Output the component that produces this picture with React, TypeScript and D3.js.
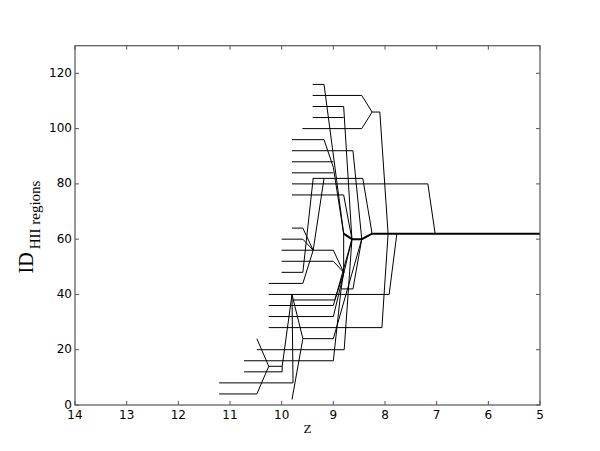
import React from "react";
import * as d3 from "d3";

// merger tree of HII regions: each branch is a polyline of [z, id] points
const trunk: [number, number][] = [[8.8, 62], [8.64, 60], [8.45, 60], [8.25, 62], [5, 62]];

const topBranches: [number, number][][] = [
  [[9.4, 116], [9.18, 116], [8.8, 62]],
  [[9.4, 112], [8.45, 112], [8.25, 106], [8.1, 106], [7.94, 62]],
  [[9.6, 100], [8.45, 100], [8.25, 106]],
  [[9.4, 108], [8.8, 108], [8.64, 60]],
  [[9.4, 104], [8.8, 104]],
  [[9.8, 96], [9.18, 96], [9.0, 86], [8.8, 62]],
  [[9.8, 92], [8.62, 92], [8.45, 60]],
  [[9.8, 88], [9.0, 88]],
  [[9.8, 84], [9.0, 84]],
  [[9.8, 80], [7.17, 80], [7.03, 62]],
  [[9.8, 76], [8.8, 76], [8.64, 60]],
  [[9.4, 82], [8.43, 82], [8.25, 62]],
];

const middleBranches: [number, number][][] = [
  [[9.8, 64], [9.59, 64], [9.39, 56]],
  [[10.0, 60], [9.59, 60], [9.39, 56]],
  [[9.39, 56], [9.18, 82]],
  [[10.0, 56], [9.0, 56], [8.8, 48]],
  [[10.0, 52], [9.0, 52], [8.8, 48]],
  [[8.8, 48], [8.8, 62]],
  [[8.8, 48], [8.85, 42], [8.62, 42], [8.45, 60]],
  [[10.0, 48], [9.59, 48], [9.39, 82]],
  [[10.25, 44], [9.59, 44], [9.39, 56]],
];

const lowerBranches: [number, number][][] = [
  [[10.25, 40], [7.92, 40], [7.77, 62]],
  [[9.78, 38], [8.97, 38], [8.8, 48]],
  [[10.25, 36], [9.0, 36], [8.64, 60]],
  [[10.25, 32], [9.0, 32], [8.64, 60]],
  [[10.25, 28], [8.06, 28], [7.94, 62]],
  [[9.59, 24], [9.0, 24], [8.45, 60]],
  [[9.8, 40], [9.59, 24]],
  [[10.48, 20], [8.79, 20], [8.64, 60]],
  [[10.73, 16], [9.0, 16], [8.85, 42]],
  [[10.25, 14], [9.99, 14], [9.8, 40]],
  [[10.73, 12], [9.99, 12], [9.99, 14]],
  [[10.48, 24], [10.25, 14]],
  [[11.21, 4], [10.48, 4], [10.25, 14]],
  [[11.21, 8], [9.78, 8], [9.8, 40]],
  [[9.8, 2], [9.59, 24]],
];

const xTicks = [14, 13, 12, 11, 10, 9, 8, 7, 6, 5];
const yTicks = [0, 20, 40, 60, 80, 100, 120];

export default function App() {
  const width = 600;
  const height = 451;
  const left = 75, right = 540, top = 45.7, bottom = 405;

  const x = d3.scaleLinear().domain([14, 5]).range([left, right]);
  const y = d3.scaleLinear().domain([0, 130]).range([bottom, top]);
  const line = d3.line<[number, number]>().x((d) => x(d[0])).y((d) => y(d[1]));

  const branches = [...topBranches, ...middleBranches, ...lowerBranches];
  const axisColor = "#555";

  return (
    <svg width={width} height={height} style={{ position: "absolute", left: 0, top: 0, background: "#fff" }}>
      <rect x={0} y={0} width={width} height={height} fill="#fff" />
      {branches.map((b, i) => (
        <path key={i} d={line(b) || ""} fill="none" stroke="#000" strokeWidth={1} />
      ))}
      <path d={line(trunk) || ""} fill="none" stroke="#000" strokeWidth={2} />

      <rect x={left} y={top} width={right - left} height={bottom - top} fill="none" stroke={axisColor} strokeWidth={1.2} />
      {xTicks.map((t) => (
        <g key={"x" + t}>
          <line x1={x(t)} x2={x(t)} y1={bottom} y2={bottom - 4} stroke={axisColor} />
          <line x1={x(t)} x2={x(t)} y1={top} y2={top + 4} stroke={axisColor} />
          <text x={x(t)} y={419} textAnchor="middle" fontFamily="DejaVu Sans" fontSize={12} fill="#000">
            {t}
          </text>
        </g>
      ))}
      {yTicks.map((t) => (
        <g key={"y" + t}>
          <line x1={left} x2={left + 4} y1={y(t)} y2={y(t)} stroke={axisColor} />
          <line x1={right} x2={right - 4} y1={y(t)} y2={y(t)} stroke={axisColor} />
          <text x={72} y={y(t) + 3.5} textAnchor="end" fontFamily="DejaVu Sans" fontSize={12} fill="#000">
            {t}
          </text>
        </g>
      ))}
      <text x={(left + right) / 2} y={433} textAnchor="middle" fontFamily="Liberation Serif" fontSize={13} fill="#000">
        Z
      </text>
      <text transform="translate(33,227) rotate(-90)" textAnchor="middle" fontFamily="Liberation Serif" fill="#000">
        <tspan fontSize={20}>ID</tspan>
        <tspan fontSize={15} dx={3} dy={7}>HII regions</tspan>
      </text>
    </svg>
  );
}
